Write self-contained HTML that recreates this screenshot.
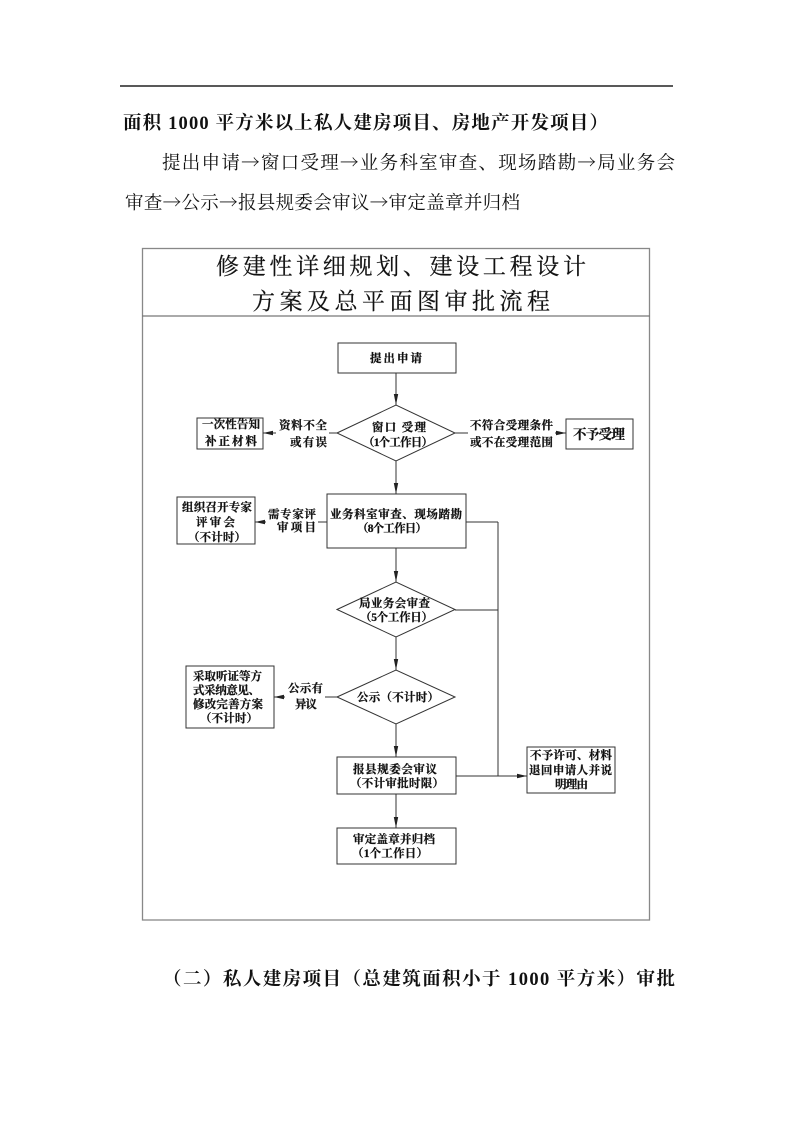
<!DOCTYPE html>
<html><head><meta charset="utf-8">
<style>
html,body{margin:0;padding:0;background:#fff;}
svg{display:block;}
text{font-family:"Liberation Serif","Noto Serif CJK SC",serif;fill:#111;}
.b{font-weight:bold;}
.f{font-size:11.5px;font-weight:bold;stroke:#111;stroke-width:0.25;}
.ar{font-family:"Noto Serif CJK SC","Noto Sans CJK SC",serif;}
</style></head>
<body>
<svg width="793" height="1122" viewBox="0 0 793 1122" xmlns="http://www.w3.org/2000/svg">
<rect width="793" height="1122" fill="#fff"/>
<!-- top rule -->
<line x1="120" y1="86" x2="673" y2="86" stroke="#222" stroke-width="1.5"/>

<text class="b" x="123" y="129" font-size="18.5" textLength="485" lengthAdjust="spacing">面积 1000 平方米以上私人建房项目、房地产开发项目）</text>
<text x="162" y="169" font-size="18.5" textLength="513" lengthAdjust="spacing">提出申请<tspan class="ar">→</tspan>窗口受理<tspan class="ar">→</tspan>业务科室审查、现场踏勘<tspan class="ar">→</tspan>局业务会</text>
<text x="125" y="209" font-size="18.5" textLength="395" lengthAdjust="spacing">审查<tspan class="ar">→</tspan>公示<tspan class="ar">→</tspan>报县规委会审议<tspan class="ar">→</tspan>审定盖章并归档</text>

<!-- frame -->
<rect x="142.5" y="248.5" width="507" height="671.5" fill="none" stroke="#888" stroke-width="1.3"/>
<line x1="142" y1="316" x2="650" y2="316" stroke="#777" stroke-width="1.3"/>
<text x="216" y="274" font-size="23" textLength="370" lengthAdjust="spacing" stroke="#111" stroke-width="0.2">修建性详细规划、建设工程设计</text>
<text x="252" y="309" font-size="23" textLength="298" lengthAdjust="spacing" stroke="#111" stroke-width="0.2">方案及总平面图审批流程</text>

<g fill="none" stroke="#333" stroke-width="1">
  <rect x="338" y="343" width="118" height="30"/>
  <rect x="197" y="418" width="66" height="31"/>
  <rect x="566" y="419" width="67" height="30"/>
  <rect x="327" y="494" width="139" height="54"/>
  <rect x="177" y="497" width="78" height="47"/>
  <rect x="186" y="666" width="88" height="62"/>
  <rect x="337" y="757" width="119" height="37"/>
  <rect x="337" y="828" width="119" height="36"/>
  <rect x="527" y="747" width="88" height="46"/>
  <polygon points="337,433 396,405 455,433 396,461"/>
  <polygon points="337,609.5 396,582 455,609.5 396,637"/>
  <polygon points="337,697 396,670 455,697 396,724"/>
  <!-- connectors -->
  <line x1="396" y1="373" x2="396" y2="405"/>
  <line x1="396" y1="461" x2="396" y2="494"/>
  <line x1="396" y1="548" x2="396" y2="582"/>
  <line x1="396" y1="637" x2="396" y2="670"/>
  <line x1="396" y1="724" x2="396" y2="757"/>
  <line x1="396" y1="794" x2="396" y2="828"/>
  <line x1="263" y1="433" x2="276" y2="433"/>
  <line x1="329" y1="433" x2="337" y2="433"/>
  <line x1="455" y1="433" x2="468" y2="433"/>
  <line x1="555" y1="433" x2="566" y2="433"/>
  <line x1="255" y1="522" x2="266" y2="522"/>
  <line x1="318" y1="522" x2="327" y2="522"/>
  <line x1="466" y1="522" x2="498" y2="522"/>
  <line x1="498" y1="522" x2="498" y2="776"/>
  <line x1="455" y1="610" x2="498" y2="610"/>
  <line x1="274" y1="697" x2="285" y2="697"/>
  <line x1="325" y1="697" x2="337" y2="697"/>
  <line x1="456" y1="776" x2="527" y2="776"/>
</g>
<g fill="#222">
  <polygon points="396,405 393.8,394 398.2,394"/>
  <polygon points="396,494 393.8,483 398.2,483"/>
  <polygon points="396,582 393.8,571 398.2,571"/>
  <polygon points="396,670 393.8,659 398.2,659"/>
  <polygon points="396,757 393.8,746 398.2,746"/>
  <polygon points="396,828 393.8,817 398.2,817"/>
  <polygon points="263,433 273,430.8 273,435.2"/>
  <polygon points="255,522 265,519.8 265,524.2"/>
  <polygon points="274,697 284,694.8 284,699.2"/>
  <polygon points="566,433 556,430.8 556,435.2"/>
  <polygon points="527,776 517,773.8 517,778.2"/>
</g>

<text class="f" x="370" y="362" textLength="52" lengthAdjust="spacing">提出申请</text>
<text class="f" x="372" y="431" textLength="54" lengthAdjust="spacing">窗口 受理</text>
<text class="f" x="363" y="446" textLength="70" lengthAdjust="spacing">（1个工作日）</text>
<text class="f" x="202" y="428" textLength="58" lengthAdjust="spacing">一次性告知</text>
<text class="f" x="205" y="445" textLength="52" lengthAdjust="spacing">补正材料</text>
<text class="f" x="279" y="429" textLength="48" lengthAdjust="spacing">资料不全</text>
<text class="f" x="290" y="446" textLength="37" lengthAdjust="spacing">或有误</text>
<text class="f" x="470" y="429" textLength="83" lengthAdjust="spacing">不符合受理条件</text>
<text class="f" x="470" y="446" textLength="83" lengthAdjust="spacing">或不在受理范围</text>
<text x="573" y="439" font-size="13.5" font-weight="bold" stroke="#111" stroke-width="0.25" textLength="52" lengthAdjust="spacing">不予受理</text>
<text class="f" x="330" y="518" textLength="132" lengthAdjust="spacing">业务科室审查、现场踏勘</text>
<text class="f" x="357" y="532" textLength="70" lengthAdjust="spacing">（8个工作日）</text>
<text class="f" x="182" y="511" textLength="70" lengthAdjust="spacing">组织召开专家</text>
<text class="f" x="196" y="526" textLength="39" lengthAdjust="spacing">评审会</text>
<text class="f" x="188" y="541" textLength="58" lengthAdjust="spacing">（不计时）</text>
<text class="f" x="268" y="518" textLength="48" lengthAdjust="spacing">需专家评</text>
<text class="f" x="277" y="531" textLength="39" lengthAdjust="spacing">审项目</text>
<text class="f" x="359" y="607" textLength="71" lengthAdjust="spacing">局业务会审查</text>
<text class="f" x="360" y="621" textLength="73" lengthAdjust="spacing">（5个工作日）</text>
<text class="f" x="357" y="701" textLength="82" lengthAdjust="spacing">公示（不计时）</text>
<text class="f" x="193" y="680" textLength="69" lengthAdjust="spacing">采取听证等方</text>
<text class="f" x="193" y="694" textLength="67" lengthAdjust="spacing">式采纳意见、</text>
<text class="f" x="193" y="708" textLength="70" lengthAdjust="spacing">修改完善方案</text>
<text class="f" x="200" y="722" textLength="58" lengthAdjust="spacing">（不计时）</text>
<text class="f" x="288" y="692" textLength="35" lengthAdjust="spacing">公示有</text>
<text class="f" x="295" y="708" textLength="22" lengthAdjust="spacing">异议</text>
<text class="f" x="353" y="773" textLength="84" lengthAdjust="spacing">报县规委会审议</text>
<text class="f" x="350" y="787" textLength="94" lengthAdjust="spacing">（不计审批时限）</text>
<text class="f" x="353" y="843" textLength="82" lengthAdjust="spacing">审定盖章并归档</text>
<text class="f" x="352" y="857" textLength="76" lengthAdjust="spacing">（1个工作日）</text>
<text class="f" x="530" y="759" textLength="82" lengthAdjust="spacing">不予许可、材料</text>
<text class="f" x="529" y="774" textLength="83" lengthAdjust="spacing">退回申请人并说</text>
<text class="f" x="555" y="788" textLength="33" lengthAdjust="spacing">明理由</text>

<text class="b" x="163" y="985" font-size="18.5" textLength="512" lengthAdjust="spacing">（二）私人建房项目（总建筑面积小于 1000 平方米）审批</text>
</svg>
</body></html>
